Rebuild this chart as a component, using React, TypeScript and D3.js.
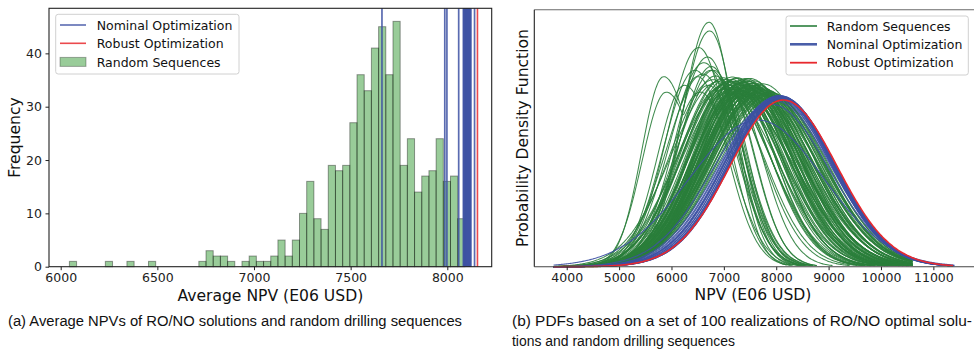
import React, { useRef, useEffect } from "react";
import * as d3 from "d3";

// ---- (a) histogram of average NPV (E06 USD)
const histStart = 6045;
const histBinWidth = 37.2;
const histCounts = [
  1, 0, 0, 0, 0, 1, 0, 0, 1, 0, 0, 1, 0, 0, 0, 0, 0, 0,
  1, 3, 2, 2, 1, 0, 1, 2, 1, 1, 2, 5, 2, 5,
  10, 16, 9, 7, 19, 18, 19, 27, 36, 33, 41, 45, 36, 46,
  19, 24, 14, 17, 18, 24, 16, 17, 9,
];
const nominalNpv = [
  7662, 7987, 7998, 8059, 8083, 8086, 8089, 8092, 8095, 8098, 8101, 8104,
  8107, 8110, 8113, 8116, 8119, 8122, 8141,
];
const robustNpv = 8156;
const histXTicks = [6000, 6500, 7000, 7500, 8000];
const histYTicks = [0, 10, 20, 30, 40];

// ---- (b) PDF curves: peak NPV, second-peak offset, peak height (1e-4), left/right spread
const greenPeak = [
  6716, 6730, 6520, 6690, 6620, 6760, 5850, 5900, 6250, 6450, 6600, 6800,
  6850, 6950, 7000, 6900, 7050, 6800, 7100,
  7150, 7200, 7250, 7300, 7320, 7350, 7400, 7420, 7450, 7480, 7500, 7520,
  7550, 7580, 7600, 7650, 7680, 7700, 7750, 7780, 7820, 7850, 7900, 7950,
  7100, 7180, 7230, 7280, 7330, 7380, 7430, 7470, 7530, 7560, 7620, 7660,
  7720, 7000, 7060, 7150, 7250, 7350, 7450, 7600, 6950, 7050, 7200, 7300,
  7400, 7500, 7250,
  7300, 7350, 7420, 7480, 7540, 7580, 7640, 7700, 7760, 7800, 7860, 7200,
  7120, 7040, 7380, 7460, 7520, 7680, 7280, 7180, 6980, 7080, 7160, 7420,
  7560, 7900, 7740, 7620, 7340, 7220,
];
const greenSecond = [
  0, 0, 0, 0, 0, 0, 650, 650, 450, 300, 0, 0,
  0, 0, 0, 0, 0, 0, 0,
  0, 0, 0, 0, 0, 0, 0, 0, 0, 0, 0, 0,
  0, 0, 0, 0, 0, 0, 0, 0, 0, 0, 0, 0,
  0, 0, 0, 0, 0, 0, 0, 0, 0, 0, 0, 0,
  0, 0, 0, 0, 0, 0, 0, 0, 0, 0, 0, 0,
  0, 0, 0,
  0, 0, 0, 0, 0, 0, 0, 0, 0, 0, 0, 0,
  0, 0, 0, 0, 0, 0, 0, 0, 0, 0, 0, 0,
  0, 0, 0, 0, 0, 0,
];
const greenHeight = [
  6.47, 6.24, 5.8, 5.55, 5.4, 5.3, 5.03, 4.62, 4.8, 5.2, 5.1, 5.2,
  5.05, 4.95, 5.0, 4.9, 4.85, 4.95, 4.9,
  4.95, 4.9, 4.98, 4.92, 4.85, 4.8, 4.88, 4.75, 4.82, 4.7, 4.78, 4.66,
  4.72, 4.62, 4.68, 4.6, 4.64, 4.58, 4.62, 4.55, 4.58, 4.52, 4.55, 4.5,
  4.8, 4.75, 4.7, 4.82, 4.65, 4.72, 4.6, 4.9, 4.85, 4.8, 4.75, 4.7,
  4.68, 4.7, 4.6, 4.55, 4.58, 4.52, 4.5, 4.5, 4.75, 4.65, 4.62, 4.68,
  4.95, 4.98, 5.0,
  4.75, 4.88, 4.92, 4.8, 4.74, 4.86, 4.8, 4.74, 4.7, 4.66, 4.62, 4.84,
  4.9, 4.96, 4.6, 4.56, 4.54, 4.52, 4.66, 4.7, 4.8, 4.75, 5.02, 4.98,
  4.92, 4.6, 4.84, 4.58, 4.55, 4.5,
];
const greenLeftSd = [
  520, 560, 600, 620, 650, 620, 420, 460, 520, 600, 700, 680,
  760, 800, 820, 900, 860, 820, 880,
  820, 850, 800, 870, 900, 860, 900, 920, 880, 940, 900, 960,
  920, 980, 950, 1000, 960, 1000, 980, 1020, 1000, 1040, 1020, 1050,
  780, 800, 760, 840, 820, 860, 880, 830, 870, 900, 920, 940,
  960, 900, 880, 850, 790, 830, 860, 900, 850, 740, 780, 760,
  820, 850, 780,
  900, 880, 860, 900, 930, 900, 940, 970, 990, 1000, 1020, 860,
  840, 820, 940, 960, 980, 1000, 880, 860, 780, 800, 820, 900,
  920, 1030, 960, 980, 900, 860,
];
const greenRightSd = [
  470, 500, 560, 560, 600, 580, 560, 600, 620, 600, 620, 600,
  520, 500, 560, 480, 540, 600, 620,
  800, 850, 820, 880, 900, 950, 900, 960, 1000, 980, 1020, 1000,
  1050, 1040, 1080, 1050, 1100, 1080, 1100, 1060, 1080, 1050, 1060, 1040,
  900, 950, 1000, 940, 1000, 980, 1060, 880, 900, 930, 960, 1000,
  1020, 900, 960, 1000, 1020, 1050, 1060, 1080, 820, 860, 900, 880,
  860, 900, 820,
  950, 920, 940, 980, 1000, 950, 1000, 1030, 1040, 1060, 1040, 900,
  860, 820, 1080, 1100, 1080, 1100, 1040, 980, 760, 820, 780, 860,
  900, 1020, 960, 1060, 1100, 1100,
];
const bluePeak = [
  7650, 7900, 7960, 8000, 8020, 8040, 8050, 8060, 8070, 8080, 8090, 8095,
  8100, 8105, 8110, 8115, 8120, 7990, 8030,
];
const blueHeight = [
  3.88, 4.3, 4.4, 4.48, 4.5, 4.52, 4.5, 4.53, 4.51, 4.52, 4.5, 4.49,
  4.5, 4.48, 4.47, 4.46, 4.45, 4.45, 4.47,
];
const blueLeftSd = [
  1300, 1100, 1060, 1040, 1030, 1020, 1040, 1010, 1020, 1000, 1010, 1000,
  990, 1000, 990, 1000, 995, 1050, 1030,
];
const blueRightSd = [
  1250, 1100, 1080, 1040, 1030, 1030, 1010, 1020, 1010, 1020, 1000, 1020,
  1010, 1000, 1020, 1010, 1015, 1060, 1050,
];
const redPeak = 8135;
const redHeight = 4.41;
const redLeftSd = 1015;
const redRightSd = 1020;
const pdfXTicks = [4000, 5000, 6000, 7000, 8000, 9000, 10000, 11000];

const GREEN = "#2a7e3b";
const BLUE = "#3d51a3";
const RED = "#e8292e";
const font = "DejaVu Sans, sans-serif";

// split-normal density sampled on the NPV axis; a second mode (same height) when `second` > 0
function pdfPoints(m: number, second: number, h: number, sl: number, sr: number, hi: number) {
  const pts: [number, number][] = [];
  const end = Math.min(hi, m + second + 3.2 * sr);
  const bump = (x: number, c: number, a: number, b: number) =>
    Math.exp(-((x - c) ** 2) / (2 * (x < c ? a : b) ** 2));
  for (let x = 3750; x <= end; x += 25) {
    let y = bump(x, m, sl, sr);
    if (second > 0) y = Math.max(y, bump(x, m + second, sr, sr));
    pts.push([x, h * y]);
  }
  return pts;
}

const App: React.FC = () => {
  const svgRef = useRef<SVGSVGElement | null>(null);

  useEffect(() => {
    if (!svgRef.current) return;
    const svg = d3.select(svgRef.current);
    svg.selectAll("*").remove();

    // ================= (a) histogram =================
    const xL = d3.scaleLinear().domain([5939.5, 8229.7]).range([49, 491.7]);
    const yL = d3.scaleLinear().domain([0, 48.45]).range([266.7, 8.3]);

    const bins = histCounts
      .map((c, i) => ({ x0: histStart + i * histBinWidth, c }))
      .filter((d) => d.c > 0);

    svg
      .append("g")
      .selectAll("rect")
      .data(bins)
      .enter()
      .append("rect")
      .attr("x", (d) => xL(d.x0))
      .attr("y", (d) => yL(d.c))
      .attr("width", (d) => xL(d.x0 + histBinWidth) - xL(d.x0))
      .attr("height", (d) => yL(0) - yL(d.c))
      .attr("fill", "rgba(0,128,0,0.4)")
      .attr("stroke", "rgba(0,0,0,0.38)")
      .attr("stroke-width", 1);

    svg
      .append("g")
      .selectAll("line")
      .data(nominalNpv)
      .enter()
      .append("line")
      .attr("x1", (d) => xL(d))
      .attr("x2", (d) => xL(d))
      .attr("y1", yL.range()[0])
      .attr("y2", yL.range()[1])
      .attr("stroke", BLUE)
      .attr("stroke-opacity", 0.85)
      .attr("stroke-width", 1.7);

    svg
      .append("line")
      .attr("x1", xL(robustNpv))
      .attr("x2", xL(robustNpv))
      .attr("y1", yL.range()[0])
      .attr("y2", yL.range()[1])
      .attr("stroke", RED)
      .attr("stroke-opacity", 0.85)
      .attr("stroke-width", 1.6);

    // axes
    const axL = svg
      .append("g")
      .attr("transform", `translate(0,${yL(0)})`)
      .call(d3.axisBottom(xL).tickValues(histXTicks).tickSize(3.5).tickPadding(2.5).tickFormat(d3.format("d")));
    const ayL = svg
      .append("g")
      .attr("transform", `translate(${xL.range()[0]},0)`)
      .call(d3.axisLeft(yL).tickValues(histYTicks).tickSize(3.5).tickPadding(3.5));
    [axL, ayL].forEach((a) => {
      a.select(".domain").remove();
      a.selectAll("line").attr("stroke", "#222");
      a.selectAll("text").attr("fill", "#222").style("font-family", font).style("font-size", "12.5px");
    });

    svg
      .append("rect")
      .attr("x", 49)
      .attr("y", 8.3)
      .attr("width", 491.7 - 49)
      .attr("height", 266.7 - 8.3)
      .attr("fill", "none")
      .attr("stroke", "#222")
      .attr("stroke-width", 1.1);

    svg
      .append("text")
      .attr("x", (49 + 491.7) / 2)
      .attr("y", 300.7)
      .attr("text-anchor", "middle")
      .style("font-family", font)
      .style("font-size", "15.6px")
      .attr("fill", "#111")
      .text("Average NPV (E06 USD)");
    svg
      .append("text")
      .attr("transform", "translate(19.7,137.5) rotate(-90)")
      .attr("text-anchor", "middle")
      .style("font-family", font)
      .style("font-size", "15.6px")
      .attr("fill", "#111")
      .text("Frequency");

    // legend (a)
    const lgA = svg.append("g");
    lgA
      .append("rect")
      .attr("x", 55.7)
      .attr("y", 14.3)
      .attr("width", 183.3)
      .attr("height", 59.7)
      .attr("rx", 2.5)
      .attr("fill", "rgba(255,255,255,0.85)")
      .attr("stroke", "#d0d0d0");
    const rowsA = [
      { label: "Nominal Optimization", y: 25, kind: "line", color: BLUE },
      { label: "Robust Optimization", y: 43.3, kind: "line", color: RED },
      { label: "Random Sequences", y: 62, kind: "patch", color: "" },
    ];
    rowsA.forEach((r) => {
      if (r.kind === "line") {
        lgA.append("line").attr("x1", 60).attr("x2", 86).attr("y1", r.y).attr("y2", r.y)
          .attr("stroke", r.color).attr("stroke-opacity", 0.85).attr("stroke-width", 1.6);
      } else {
        lgA.append("rect").attr("x", 60).attr("y", r.y - 4.6).attr("width", 26).attr("height", 9)
          .attr("fill", "rgba(0,128,0,0.4)").attr("stroke", "rgba(0,0,0,0.3)");
      }
      lgA.append("text").attr("x", 96.7).attr("y", r.y + 4.5)
        .style("font-family", font).style("font-size", "12.5px").attr("fill", "#111").text(r.label);
    });

    // ================= (b) PDFs =================
    const xR = d3.scaleLinear().domain([3381, 11795]).range([534.3, 975]);
    const yR = d3.scaleLinear().domain([0, 6.8]).range([266.7, 9.7]);
    const line = d3
      .line<[number, number]>()
      .x((d) => xR(d[0]))
      .y((d) => yR(d[1]))
      .curve(d3.curveBasis);

    const gCurves = svg.append("g").attr("fill", "none");
    greenPeak.forEach((m, i) => {
      gCurves
        .append("path")
        .attr("d", line(pdfPoints(m, greenSecond[i], greenHeight[i], greenLeftSd[i], greenRightSd[i], 10600)))
        .attr("stroke", GREEN)
        .attr("stroke-opacity", 0.9)
        .attr("stroke-width", 1.05);
    });
    bluePeak.forEach((m, i) => {
      gCurves
        .append("path")
        .attr("d", line(pdfPoints(m, 0, blueHeight[i], blueLeftSd[i], blueRightSd[i], 11400)))
        .attr("stroke", BLUE)
        .attr("stroke-opacity", 0.9)
        .attr("stroke-width", 1.1);
    });
    gCurves
      .append("path")
      .attr("d", line(pdfPoints(redPeak, 0, redHeight, redLeftSd, redRightSd, 11400)))
      .attr("stroke", RED)
      .attr("stroke-width", 1.6);

    const axR = svg
      .append("g")
      .attr("transform", `translate(0,${yR(0)})`)
      .call(d3.axisBottom(xR).tickValues(pdfXTicks).tickSize(3.5).tickPadding(2.5).tickFormat(d3.format("d")));
    axR.select(".domain").remove();
    axR.selectAll("line").attr("stroke", "#222");
    axR.selectAll("text").attr("fill", "#222").style("font-family", font).style("font-size", "12.5px");

    // spines
    svg.append("line").attr("x1", 534.3).attr("x2", 975).attr("y1", 9.7).attr("y2", 9.7)
      .attr("stroke", "#6a6a6a").attr("stroke-width", 1.1);
    svg.append("line").attr("x1", 534.3).attr("x2", 975).attr("y1", 266.7).attr("y2", 266.7)
      .attr("stroke", "#444").attr("stroke-width", 1.1);
    svg.append("line").attr("x1", 534.3).attr("x2", 534.3).attr("y1", 9.7).attr("y2", 266.7)
      .attr("stroke", "#222").attr("stroke-width", 1.1);

    svg
      .append("text")
      .attr("x", 753)
      .attr("y", 300.3)
      .attr("text-anchor", "middle")
      .style("font-family", font)
      .style("font-size", "15.6px")
      .attr("fill", "#111")
      .text("NPV (E06 USD)");
    svg
      .append("text")
      .attr("transform", "translate(528,138) rotate(-90)")
      .attr("text-anchor", "middle")
      .style("font-family", font)
      .style("font-size", "15.6px")
      .attr("fill", "#111")
      .text("Probability Density Function");

    // legend (b)
    const lgB = svg.append("g");
    lgB
      .append("rect")
      .attr("x", 786)
      .attr("y", 16)
      .attr("width", 182.3)
      .attr("height", 59)
      .attr("rx", 2.5)
      .attr("fill", "rgba(255,255,255,0.85)")
      .attr("stroke", "#d0d0d0");
    const rowsB = [
      { label: "Random Sequences", y: 26, color: GREEN, w: 1.6 },
      { label: "Nominal Optimization", y: 44.3, color: "#4a5ea9", w: 2.6 },
      { label: "Robust Optimization", y: 62.7, color: RED, w: 1.8 },
    ];
    rowsB.forEach((r) => {
      lgB.append("line").attr("x1", 790).attr("x2", 817).attr("y1", r.y).attr("y2", r.y)
        .attr("stroke", r.color).attr("stroke-width", r.w);
      lgB.append("text").attr("x", 826.7).attr("y", r.y + 4.5)
        .style("font-family", font).style("font-size", "12.5px").attr("fill", "#111").text(r.label);
    });

    // captions
    const capFont = "'Liberation Sans', Arial, sans-serif";
    const caps = [
      { x: 8, y: 326, w: 454, t: "(a) Average NPVs of RO/NO solutions and random drilling sequences" },
      { x: 512, y: 326, w: 460, t: "(b) PDFs based on a set of 100 realizations of RO/NO optimal solu-" },
      { x: 512, y: 346, w: 223, t: "tions and random drilling sequences" },
    ];
    caps.forEach((c) => {
      svg.append("text").attr("x", c.x).attr("y", c.y)
        .attr("textLength", c.w).attr("lengthAdjust", "spacingAndGlyphs")
        .style("font-family", capFont).style("font-size", "15.5px").attr("fill", "#111").text(c.t);
    });
  }, []);

  return (
    <svg
      ref={svgRef}
      width={974}
      height={351}
      style={{ position: "absolute", left: 0, top: 0, background: "#fff" }}
    />
  );
};

export default App;
